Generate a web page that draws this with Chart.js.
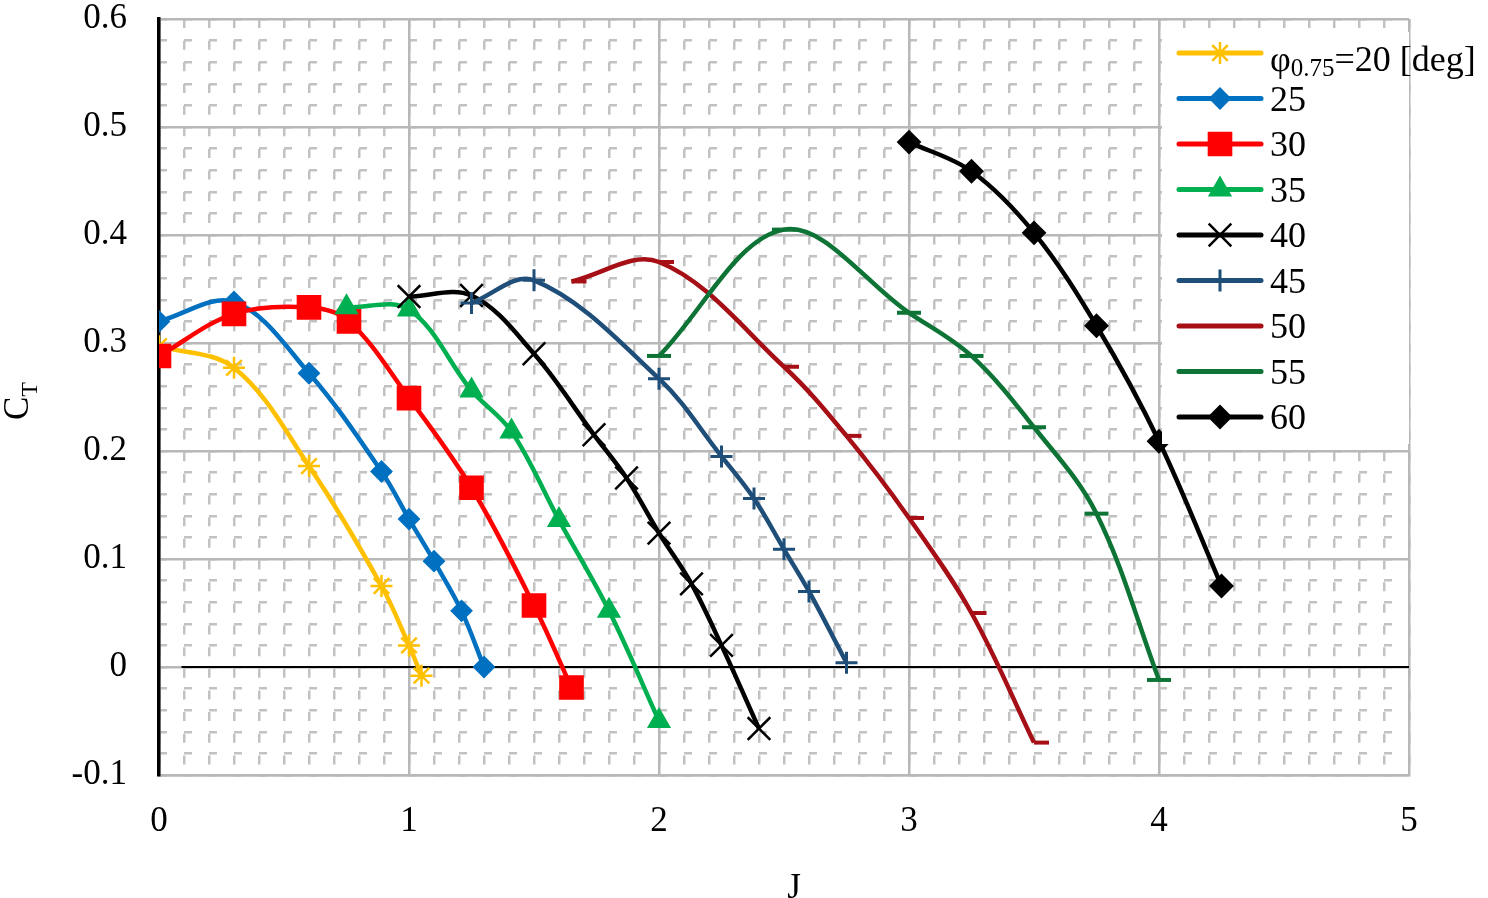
<!DOCTYPE html>
<html>
<head>
<meta charset="utf-8">
<script src="https://cdn.jsdelivr.net/npm/chart.js@4.4.0/dist/chart.umd.min.js"></script>
<style>
html,body{margin:0;padding:0;background:#fff;}
#wrap{width:1488px;height:898px;position:relative;}
</style>
</head>
<body>
<div id="wrap"><canvas id="ctChart"></canvas></div>
<script>
// advance ratio J and thrust coefficient CT, one pair of arrays per pitch angle
const J20  = [0, 0.3, 0.6, 0.89, 1.0, 1.05];
const CT20 = [0.297, 0.277, 0.186, 0.075, 0.02, -0.008];
const J25  = [0, 0.3, 0.6, 0.89, 1.0, 1.1, 1.21, 1.3];
const CT25 = [0.32, 0.338, 0.272, 0.181, 0.137, 0.098, 0.052, 0.0];
const J30  = [0, 0.3, 0.6, 0.76, 1.0, 1.25, 1.5, 1.65];
const CT30 = [0.288, 0.327, 0.333, 0.32, 0.249, 0.166, 0.057, -0.019];
const J35  = [0.75, 1.0, 1.25, 1.41, 1.6, 1.8, 2.0];
const CT35 = [0.333, 0.331, 0.256, 0.218, 0.136, 0.052, -0.05];
const J40  = [1.0, 1.25, 1.5, 1.74, 1.87, 2.0, 2.13, 2.25, 2.4];
const CT40 = [0.343, 0.344, 0.29, 0.215, 0.175, 0.124, 0.077, 0.02, -0.057];
const J45  = [1.25, 1.5, 2.0, 2.25, 2.38, 2.5, 2.6, 2.75];
const CT45 = [0.337, 0.358, 0.267, 0.195, 0.156, 0.109, 0.07, 0.004];
const J50  = [1.65, 2.0, 2.5, 2.75, 3.0, 3.25, 3.5];
const CT50 = [0.357, 0.375, 0.278, 0.214, 0.138, 0.05, -0.07];
const J55  = [2.0, 2.5, 3.0, 3.25, 3.5, 3.75, 4.0];
const CT55 = [0.288, 0.405, 0.328, 0.288, 0.222, 0.142, -0.012];
const J60  = [3.0, 3.25, 3.5, 3.75, 4.0, 4.25];
const CT60 = [0.486, 0.459, 0.402, 0.316, 0.209, 0.075];

const pitchLabels = ['20', '25', '30', '35', '40', '45', '50', '55', '60'];
const xRange = [0, 5];
const yRange = [-0.1, 0.6];

const FONT = "'Liberation Serif', 'Times New Roman', serif";

const series = [
    {x:J20, y:CT20, color:'#FFC000', style:'star',     r:11, bw:2.5},
    {x:J25, y:CT25, color:'#0070C0', style:'rectRot',  r:10, bw:2},
    {x:J30, y:CT30, color:'#FF0000', style:'rect',     r:16, bw:2},
    {x:J35, y:CT35, color:'#00B050', style:'triangle', r:12, bw:2},
    {x:J40, y:CT40, color:'#000000', style:'crossRot', r:16, bw:2.5},
    {x:J45, y:CT45, color:'#1F4E79', style:'cross',    r:11, bw:3},
    {x:J50, y:CT50, color:'#A50F15', style:'dash',     r:15, bw:4},
    {x:J55, y:CT55, color:'#0E7436', style:'line',     r:12, bw:4},
    {x:J60, y:CT60, color:'#000000', style:'rectRot',  r:11, bw:2}
];

const datasets = series.map((s, i) => ({
    label: pitchLabels[i],
    data: s.x.map((v, k) => ({x: v, y: s.y[k]})),
    borderColor: s.color,
    backgroundColor: s.color,
    borderWidth: 4.5,
    tension: 0.35,
    pointStyle: s.style,
    pointRadius: s.r,
    pointBorderWidth: s.bw,
    pointBackgroundColor: s.color,
    pointBorderColor: s.color,
    order: -i
}));

// legend, axis titles and the zero line
const extras = {
    id: 'extras',
    beforeDatasetsDraw(chart){
        const {ctx, chartArea:a, scales:{x, y}} = chart;
        const y0 = y.getPixelForValue(0);
        ctx.save();
        ctx.strokeStyle = '#000';
        ctx.lineWidth = 2;
        ctx.beginPath();
        ctx.moveTo(x.getPixelForValue(0.09), y0);
        ctx.lineTo(a.right, y0);
        ctx.stroke();
        ctx.restore();
    },
    afterDatasetsDraw(chart){
        const {ctx, chartArea:a} = chart;
        ctx.save();
        ctx.fillStyle = '#fff';
        ctx.fillRect(1162, 32, a.right - 1162, 412);
        const top = 53, step = 45.5;
        series.forEach((s, i) => {
            const ly = top + i * step;
            ctx.strokeStyle = s.color;
            ctx.fillStyle = s.color;
            ctx.lineWidth = 5;
            ctx.lineCap = 'round';
            ctx.beginPath();
            ctx.moveTo(1179, ly);
            ctx.lineTo(1261, ly);
            ctx.stroke();
            ctx.lineCap = 'butt';
            ctx.lineWidth = s.bw;
            const pr = s.style === 'dash' ? 0 : (s.style === 'line' ? 8 : s.r);
            if (pr > 0) {
                Chart.helpers.drawPoint(ctx, {pointStyle: s.style, radius: pr, borderWidth: s.bw, rotation: 0}, 1220, ly);
            }
            ctx.fillStyle = '#000';
            ctx.textBaseline = 'alphabetic';
            ctx.textAlign = 'left';
            if (i === 0) {
                let tx = 1270;
                const by = ly + 18;
                ctx.font = '36px ' + FONT;
                ctx.fillText('\u03C6', tx, by);
                tx += ctx.measureText('\u03C6').width;
                ctx.font = '25px ' + FONT;
                ctx.fillText('0.75', tx, by + 5);
                tx += ctx.measureText('0.75').width;
                ctx.font = '36px ' + FONT;
                ctx.fillText('=' + pitchLabels[0] + ' [deg]', tx, by);
            } else {
                ctx.font = '36px ' + FONT;
                ctx.fillText(pitchLabels[i], 1270, ly + 12);
            }
        });
        ctx.restore();
    },
    afterDraw(chart){
        const {ctx, chartArea:a} = chart;
        ctx.save();
        ctx.fillStyle = '#000';
        ctx.textBaseline = 'alphabetic';
        // x title
        ctx.font = '35px ' + FONT;
        ctx.textAlign = 'center';
        ctx.fillText('J', (a.left + a.right) / 2 + 10, 898);
        // y title C_T, rotated
        ctx.translate(28, 420);
        ctx.rotate(-Math.PI / 2);
        ctx.textAlign = 'left';
        ctx.fillText('C', 0, 0);
        const cw = ctx.measureText('C').width;
        ctx.font = '24px ' + FONT;
        ctx.fillText('T', cw, 9);
        ctx.restore();
    }
};

const tickFont = {family: FONT, size: 35};

new Chart(document.getElementById('ctChart'), {
    type: 'line',
    data: {datasets: datasets},
    options: {
        responsive: true,
        maintainAspectRatio: false,
        animation: false,
        layout: {padding: {top: 15, right: 79, left: 0, bottom: 0}},
        plugins: {legend: {display: false}, tooltip: {enabled: false}},
        scales: {
            x: {
                type: 'linear', position: 'bottom',
                min: xRange[0], max: xRange[1],
                ticks: {stepSize: 1, font: tickFont, color: '#000', padding: 26},
                grid: {color: '#B8B8B8', lineWidth: 2.5, drawTicks: false, z: -1},
                border: {color: '#B8B8B8', width: 2.5},
                afterFit: s => { s.height = 898 - 775; }
            },
            xMinor: {
                type: 'linear', position: 'bottom',
                min: xRange[0], max: xRange[1],
                ticks: {stepSize: 0.1, display: false},
                grid: {color: '#C2C2C2', lineWidth: 2.5, drawTicks: false, z: -2},
                border: {display: false, dash: [9, 12.66]},
                afterFit: s => { s.height = 0; }
            },
            y: {
                type: 'linear', position: 'left',
                min: yRange[0], max: yRange[1],
                ticks: {stepSize: 0.1, font: {family: FONT, size: 35, lineHeight: 0.6}, color: '#000', padding: 2,
                        callback: v => String(Number(v.toFixed(1)))},
                grid: {color: '#B8B8B8', lineWidth: 2.5, drawTicks: true, tickLength: 30,
                       tickColor: 'rgba(0,0,0,0)', z: -1},
                border: {color: '#000', width: 3.5},
                afterFit: s => { s.width = 159; }
            },
            yMinor: {
                type: 'linear', position: 'left',
                min: yRange[0], max: yRange[1],
                ticks: {stepSize: 0.02, display: false},
                grid: {color: '#C2C2C2', lineWidth: 2.5, drawTicks: false, z: -2},
                border: {display: false, dash: [8, 17]},
                afterFit: s => { s.width = 0; }
            }
        }
    },
    plugins: [extras]
});
</script>
</body>
</html>
